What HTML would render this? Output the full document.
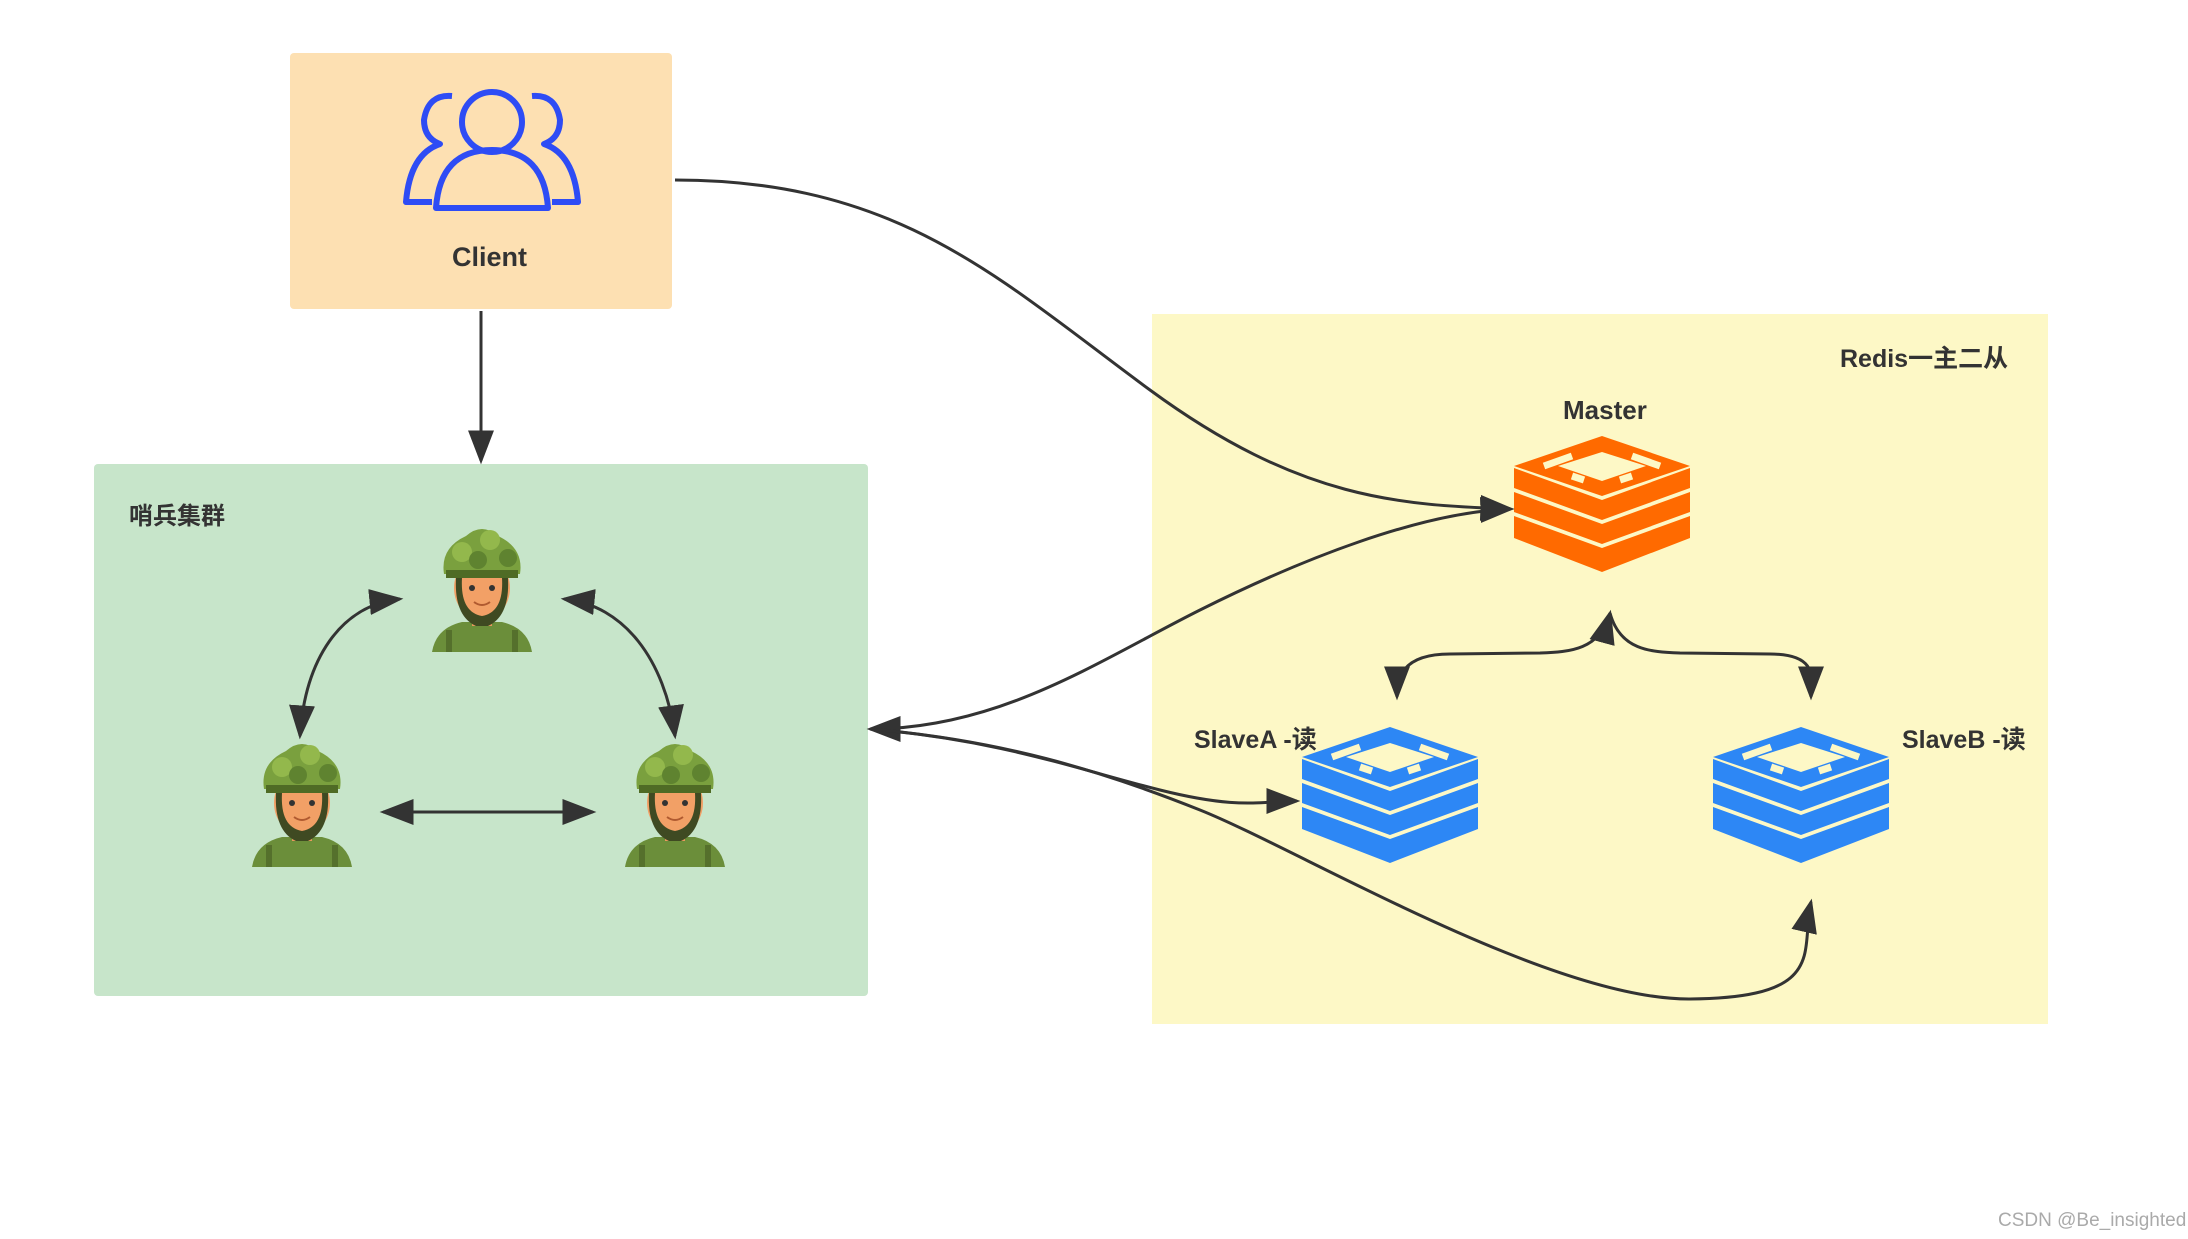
<!DOCTYPE html>
<html><head><meta charset="utf-8"><style>
body{margin:0;width:2188px;height:1239px;background:#fff;position:relative;overflow:hidden;font-family:"Liberation Sans","Noto Sans CJK SC",sans-serif;}
.t{position:absolute;font-weight:bold;color:#333;white-space:nowrap}
</style></head><body>
<svg width="2188" height="1239" style="position:absolute;left:0;top:0">
<defs>
<marker id="b" viewBox="0 0 10 10" refX="9" refY="5" markerWidth="34" markerHeight="26" markerUnits="userSpaceOnUse" orient="auto-start-reverse" preserveAspectRatio="none"><path d="M0,0 L10,5 L0,10 Z" fill="#333"/></marker>
<g id="sold">
<path d="M-50,66 Q-46,42 -20,36 L20,36 Q46,42 50,66 Z" fill="#6b8e3a"/>
<rect x="-36" y="44" width="6" height="22" fill="#55702c"/><rect x="30" y="44" width="6" height="22" fill="#55702c"/>
<rect x="-10" y="26" width="20" height="14" fill="#e89a5c"/>
<ellipse cx="0" cy="2" rx="28" ry="32" fill="#f2a066"/>
<path d="M-26,-8 Q-28,30 -6,40 L6,40 Q28,30 26,-8 L20,-8 Q22,26 0,30 Q-22,26 -20,-8Z" fill="#3f4a22"/>
<circle cx="-10" cy="2" r="3" fill="#333"/><circle cx="10" cy="2" r="3" fill="#333"/>
<path d="M-8,16 Q0,22 8,16" stroke="#b05a30" stroke-width="2" fill="none"/>
<path d="M-38,-12 Q-42,-38 -16,-50 Q0,-64 16,-50 Q42,-38 38,-12 Z" fill="#7aa03e"/>
<rect x="-36" y="-16" width="72" height="8" fill="#4f6b25"/>
<circle cx="-20" cy="-34" r="10" fill="#93b84c"/><circle cx="8" cy="-46" r="10" fill="#93b84c"/><circle cx="26" cy="-28" r="9" fill="#5f8330"/><circle cx="-4" cy="-26" r="9" fill="#5f8330"/>
</g>
<g id="redis">
<path d="M0,72 L-88,40 L-88,62 L0,96 L88,62 L88,40 Z"/>
<path d="M0,48 L-88,16 L-88,36 L0,68 L88,36 L88,16 Z"/>
<path d="M0,24 L-88,-8 L-88,12 L0,44 L88,12 L88,-8 Z"/>
<path d="M0,-40 L-88,-10 L0,20 L88,-10 Z"/>
<path d="M0,-24 L-44,-10 L0,5 L44,-10 Z" fill="#fdf8c6"/>
<path d="M-58,-10 L-30,-20 M30,-20 L58,-10 M-30,0 L-18,4 M18,4 L30,0" stroke="#fdf8c6" stroke-width="7"/>
</g>
</defs>
<rect x="290" y="53" width="382" height="256" rx="4" fill="#fde0b2"/>
<rect x="94" y="464" width="774" height="532" rx="4" fill="#c7e5ca"/>
<rect x="1152" y="314" width="896" height="710" fill="#fdf8c6"/>
<g fill="none" stroke="#2e4cf5" stroke-width="6" stroke-linejoin="round">
<circle cx="492" cy="122" r="30"/>
<path d="M436,208 Q440,150 492,150 Q544,150 548,208 Z"/>
<path d="M452,96 Q428,94 424,120 Q424,138 440,144 Q410,154 406,202 L432,202"/>
<path d="M532,96 Q556,94 560,120 Q560,138 544,144 Q574,154 578,202 L552,202"/>
</g>
<use href="#sold" x="482" y="586"/>
<use href="#sold" x="302" y="801"/>
<use href="#sold" x="675" y="801"/>
<use href="#redis" x="1602" y="476" fill="#ff6a00"/>
<use href="#redis" x="1390" y="767" fill="#2d87f5"/>
<use href="#redis" x="1801" y="767" fill="#2d87f5"/>
<g fill="none" stroke="#333" stroke-width="3">
<path d="M481,311 L481,461" marker-end="url(#b)"/>
<path d="M675,180 C900,180 1000,280 1150,390 S1400,505 1511,509" marker-end="url(#b)"/>
<path d="M870,729 C1000,729 1100,660 1200,610 S1420,512 1511,509" marker-start="url(#b)" marker-end="url(#b)"/>
<path d="M870,729 C1000,740 1080,770 1160,790 S1260,801 1297,801" marker-end="url(#b)"/>
<path d="M870,729 C1000,740 1100,770 1200,810 S1550,1000 1690,999 S1800,950 1811,902" marker-end="url(#b)"/>
<path d="M1610,613 C1600,650 1570,652 1540,653 L1450,654 C1400,654 1397,680 1397,697" marker-start="url(#b)" marker-end="url(#b)"/>
<path d="M1610,613 C1620,650 1650,652 1680,653 L1770,654 C1820,654 1811,680 1811,697" marker-end="url(#b)"/>
<path d="M400,599 C340,605 305,660 300,736" marker-start="url(#b)" marker-end="url(#b)"/>
<path d="M564,599 C624,605 665,660 675,736" marker-start="url(#b)" marker-end="url(#b)"/>
<path d="M383,812 L593,812" marker-start="url(#b)" marker-end="url(#b)"/>
</g>
</svg>
<div class="t" style="left:452px;top:242px;font-size:27px">Client</div>
<div class="t" style="left:129px;top:496px;font-size:24px">哨兵集群</div>
<div class="t" style="left:1840px;top:339px;font-size:25px">Redis一主二从</div>
<div class="t" style="left:1563px;top:395px;font-size:26px">Master</div>
<div class="t" style="left:1194px;top:720px;font-size:25px">SlaveA -读</div>
<div class="t" style="left:1902px;top:720px;font-size:25px">SlaveB -读</div>
<div class="t" style="left:1998px;top:1210px;font-size:19px;font-weight:normal;color:#aaa">CSDN @Be_insighted</div>
</body></html>
